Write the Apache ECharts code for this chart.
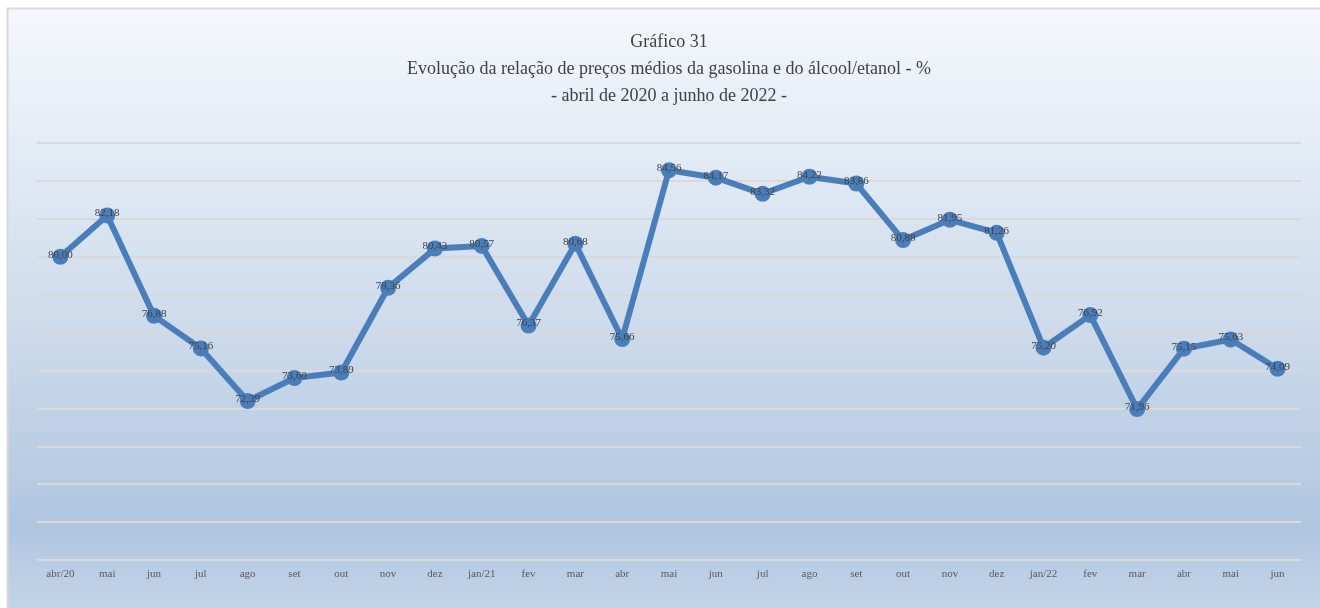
<!DOCTYPE html>
<html>
<head>
<meta charset="utf-8">
<style>
  html, body { margin: 0; padding: 0; background: #fff; }
  #chart { width: 1320px; height: 608px; }
</style>
<script src="https://cdn.jsdelivr.net/npm/echarts@6/dist/echarts.min.js"></script>
</head>
<body>
<div id="chart"></div>
<script>
// categorias (meses)
const months = ['abr/20', 'mai', 'jun', 'jul', 'ago', 'set', 'out', 'nov', 'dez',
  'jan/21', 'fev', 'mar', 'abr', 'mai', 'jun', 'jul', 'ago', 'set', 'out', 'nov', 'dez',
  'jan/22', 'fev', 'mar', 'abr', 'mai', 'jun'];

// relação álcool/gasolina - %
const ratio = [80.00, 82.18, 76.88, 75.16, 72.39, 73.60, 73.89, 78.36, 80.43,
  80.57, 76.37, 80.68, 75.66, 84.56, 84.17, 83.32, 84.22, 83.86, 80.88, 81.95, 81.26,
  75.20, 76.92, 71.96, 75.15, 75.63, 74.09];

const titleLines = [
  'Gráfico 31',
  'Evolução da relação de preços médios da gasolina e do álcool/etanol - %',
  '- abril de 2020 a junho de 2022 -'
];

const serif = '"Liberation Serif", "DejaVu Serif", serif';
const chart = echarts.init(document.getElementById('chart'));

chart.setOption({
  animation: false,
  backgroundColor: '#ffffff',
  // moldura com fundo em degradê
  graphic: [{
    type: 'rect',
    z: -10,
    silent: true,
    shape: { x: 7.5, y: 8.5, width: 1320, height: 610 },
    style: {
      fill: new echarts.graphic.LinearGradient(0, 0, 0, 1, [
        { offset: 0, color: '#f5f8fc' },
        { offset: 0.5, color: '#cfdcec' },
        { offset: 0.85, color: '#b0c6e0' },
        { offset: 1, color: '#c5d6ea' }
      ]),
      stroke: '#d9d9d9',
      lineWidth: 2
    }
  }],
  title: {
    text: titleLines.join('\n'),
    left: 664,
    textAlign: 'center',
    top: 24,
    textStyle: {
      fontFamily: serif,
      fontSize: 18,
      fontWeight: 'normal',
      color: '#404040',
      lineHeight: 27
    }
  },
  grid: {
    left: 37,
    right: 19,
    top: 143,
    bottom: 48,
    containLabel: false
  },
  xAxis: {
    type: 'category',
    data: months,
    boundaryGap: true,
    axisLine: { show: false },
    axisTick: { show: false },
    axisLabel: {
      interval: 0,
      margin: 9,
      fontFamily: serif,
      fontSize: 11,
      color: '#595959'
    }
  },
  yAxis: {
    type: 'value',
    min: 64,
    max: 86,
    interval: 2,
    axisLine: { show: false },
    axisTick: { show: false },
    axisLabel: { show: false },
    splitLine: {
      lineStyle: { color: '#d9d9d9', width: 2 }
    }
  },
  series: [{
    type: 'line',
    data: ratio,
    symbol: 'circle',
    symbolSize: 16,
    itemStyle: { color: '#4a7ebb' },
    lineStyle: { color: '#4a7ebb', width: 6 },
    label: {
      show: true,
      position: 'inside',
      offset: [0, -2],
      fontFamily: serif,
      fontSize: 11,
      color: '#404040',
      formatter: p => p.value.toFixed(2).replace('.', ',')
    }
  }]
});
</script>
</body>
</html>
